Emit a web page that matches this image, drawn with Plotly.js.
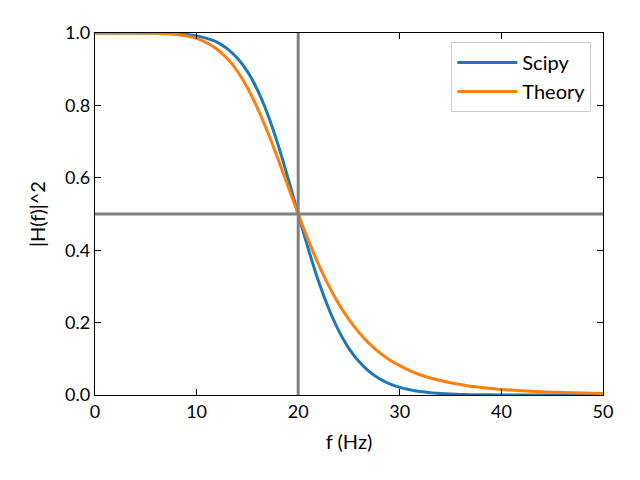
<!DOCTYPE html>
<html>
<head>
<meta charset="utf-8">
<script src="https://cdn.plot.ly/plotly-3.0.1.min.js"></script>
<style>html,body{margin:0;padding:0;background:#fff}#chart{width:640px;height:480px}</style>
</head>
<body>
<div id="chart"></div>
<script>
var freq = [0,1,2,3,4,5,6,7,8,9,10,11,12,13,14,15,16,17,18,19,20,21,22,23,24,25,26,27,28,29,30,31,32,33,34,35,36,37,38,39,40,42,44,46,48,50];
var scipyGain = [1.0,1.0,1.0,1.0,1.0,1.0,1.0,0.999,0.998,0.996,0.992,0.985,0.975,0.957,0.931,0.894,0.842,0.775,0.693,0.599,0.5,0.403,0.314,0.239,0.177,0.128,0.0916,0.0646,0.045,0.031,0.0212,0.0143,0.0095,0.0062,0.0041,0.0026,0.0016,0.001,0.0006,0.0004,0.0002,0.0001,0.0,0.0,0.0,0.0];
var theoryGain = [1.0,1.0,1.0,1.0,1.0,1.0,0.999,0.998,0.996,0.992,0.985,0.973,0.955,0.930,0.895,0.849,0.792,0.726,0.653,0.576,0.5,0.427,0.361,0.302,0.251,0.208,0.172,0.142,0.117,0.097,0.081,0.067,0.056,0.047,0.040,0.034,0.029,0.024,0.021,0.018,0.015,0.0115,0.0087,0.0067,0.0052,0.0041];
var cutoffFreq = 20;
var halfPower = 0.5;
var seriesNames = ['Scipy','Theory'];

var font = 'Lato, "Noto Sans", sans-serif';
var traces = [
  {x: freq, y: scipyGain, name: seriesNames[0], mode: 'lines', line: {color: '#1f77b4', width: 3, shape: 'spline', smoothing: 0.6}},
  {x: freq, y: theoryGain, name: seriesNames[1], mode: 'lines', line: {color: '#ff7f0e', width: 3, shape: 'spline', smoothing: 0.6}}
];
var axisCommon = {
  showline: true, linecolor: '#000', linewidth: 1.3, mirror: 'ticks',
  ticks: 'inside', ticklen: 6, tickwidth: 1.3, tickcolor: '#000',
  showgrid: false, zeroline: false,
  tickfont: {family: font, size: 18, color: '#000'}
};
var layout = {
  width: 640, height: 480,
  margin: {l: 95, r: 37, t: 33, b: 85},
  paper_bgcolor: '#fff', plot_bgcolor: '#fff',
  font: {family: font, color: '#000'},
  xaxis: Object.assign({}, axisCommon, {range: [0, 50], tickvals: [0,10,20,30,40,50], title: {text: 'f (Hz)', font: {family: font, size: 20}, standoff: 14}}),
  yaxis: Object.assign({}, axisCommon, {range: [0, 1], tickvals: [0,0.2,0.4,0.6,0.8,1.0], tickformat: '.1f', title: {text: '|H(f)|^2', font: {family: font, size: 20}, standoff: 14}}),
  shapes: [
    {type: 'line', xref: 'x', yref: 'paper', x0: cutoffFreq, x1: cutoffFreq, y0: 0, y1: 1, line: {color: '#808080', width: 3}},
    {type: 'line', xref: 'paper', yref: 'y', x0: 0, x1: 1, y0: halfPower, y1: halfPower, line: {color: '#808080', width: 3}}
  ],
  showlegend: true,
  legend: {x: 0.977, y: 0.975, xanchor: 'right', yanchor: 'top', bgcolor: '#fff', bordercolor: '#cccccc', borderwidth: 1, font: {family: font, size: 20}, itemwidth: 60, tracegroupgap: 0}
};
Plotly.newPlot('chart', traces, layout, {displayModeBar: false, staticPlot: true});
</script>
</body>
</html>
